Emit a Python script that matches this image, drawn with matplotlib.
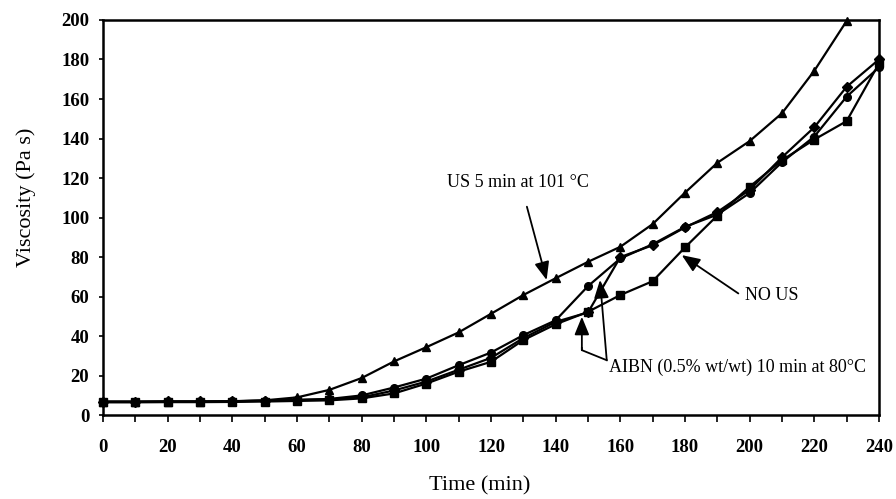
import matplotlib
matplotlib.use("Agg")
import matplotlib.pyplot as plt
from matplotlib.ticker import MultipleLocator

plt.rcParams['font.family'] = ['Liberation Serif', 'DejaVu Serif']

time_us = [0, 10, 20, 30, 40, 50, 60, 70, 80, 90, 100, 110, 120, 130, 140, 150,
           160, 170, 180, 190, 200, 210, 220, 230]
visc_us = [6.7, 6.7, 6.8, 6.8, 7.0, 7.5, 9.0, 12.8, 18.8, 27.2, 34.4, 41.9, 51.3,
           60.8, 69.3, 77.6, 85.2, 96.7, 112.6, 127.7, 138.7, 152.8, 174.3, 199.5]

time_all = [0, 10, 20, 30, 40, 50, 60, 70, 80, 90, 100, 110, 120, 130, 140, 150,
            160, 170, 180, 190, 200, 210, 220, 230, 240]
visc_no_us = [6.5, 6.5, 6.6, 6.6, 6.7, 6.9, 7.2, 7.5, 8.5, 11.0, 16.0, 22.0, 27.0,
              38.0, 46.0, 52.3, 60.8, 67.8, 84.9, 101.0, 115.6, 129.0, 139.5,
              148.8, 178.0]
visc_aibn_a = [6.8, 6.8, 6.9, 6.9, 7.0, 7.3, 7.8, 8.2, 10.0, 14.0, 18.5, 25.3,
               31.7, 40.5, 48.0, 65.3, 79.3, 86.5, 95.3, 101.5, 112.4, 128.0,
               141.0, 161.2, 176.0]
visc_aibn_b = [6.9, 6.9, 7.0, 7.0, 7.1, 7.4, 7.6, 8.0, 9.0, 12.5, 17.0, 23.0, 29.0,
               39.0, 47.2, 52.0, 80.0, 86.0, 95.0, 102.8, 114.0, 130.5, 145.7,
               166.2, 180.0]

fig = plt.figure(figsize=(8.96, 4.99), dpi=100)
ax = fig.add_axes([0.115, 0.168, 0.866, 0.792])

lw = 1.6
ax.plot(time_us, visc_us, color='black', lw=lw, marker='^', ms=5.5, clip_on=False, zorder=3)
ax.plot(time_all, visc_no_us, color='black', lw=lw, marker='s', ms=5.5, clip_on=False, zorder=3)
ax.plot(time_all, visc_aibn_a, color='black', lw=lw, marker='o', ms=5.5, clip_on=False, zorder=3)
ax.plot(time_all, visc_aibn_b, color='black', lw=lw, marker='D', ms=5, clip_on=False, zorder=3)

ax.set_xlim(0, 240)
ax.set_ylim(0, 200)
ax.xaxis.set_major_locator(MultipleLocator(20))
ax.xaxis.set_minor_locator(MultipleLocator(10))
ax.yaxis.set_major_locator(MultipleLocator(20))
ax.tick_params(axis='both', which='both', direction='out', width=1.2, color='black')
ax.tick_params(axis='x', which='major', length=5, pad=12)
ax.tick_params(axis='x', which='minor', length=5)
ax.tick_params(axis='y', which='major', length=3, pad=7)
for lab in ax.get_xticklabels() + ax.get_yticklabels():
    lab.set_fontsize(13.5)
    lab.set_fontweight('bold')
for s in ax.spines.values():
    s.set_linewidth(1.8)

ax.set_xlabel('Time (min)', fontsize=16)
ax.set_ylabel('Viscosity (Pa s)', fontsize=16)
ax.xaxis.set_label_coords(0.485, -0.155)
ax.yaxis.set_label_coords(-0.086, 0.552)

arrow_kw = dict(arrowstyle='-|>,head_length=1.1,head_width=0.45', color='black', lw=1.3,
                shrinkA=0, shrinkB=0)

ax.text(106.4, 117.5, 'US 5 min at 101 °C', fontsize=13, va='center', ha='left')
ax.annotate('', xy=(137.2, 68.4), xytext=(131.1, 105.5), arrowprops=arrow_kw)

ax.text(198.6, 60.8, 'NO US', fontsize=13, va='center', ha='left')
ax.annotate('', xy=(179.0, 81.0), xytext=(196.5, 61.6), arrowprops=arrow_kw)

ax.text(156.5, 24.3, 'AIBN (0.5% wt/wt) 10 min at 80°C', fontsize=13, va='center', ha='left')
ax.plot([155.8, 148.1, 148.1], [27.8, 32.9, 34.0], color='black', lw=1.3)
ax.annotate('', xy=(148.1, 49.8), xytext=(148.1, 32.9), arrowprops=arrow_kw)
ax.annotate('', xy=(153.7, 68.4), xytext=(155.8, 27.8), arrowprops=arrow_kw)

fig.savefig('out.png', dpi=100)
